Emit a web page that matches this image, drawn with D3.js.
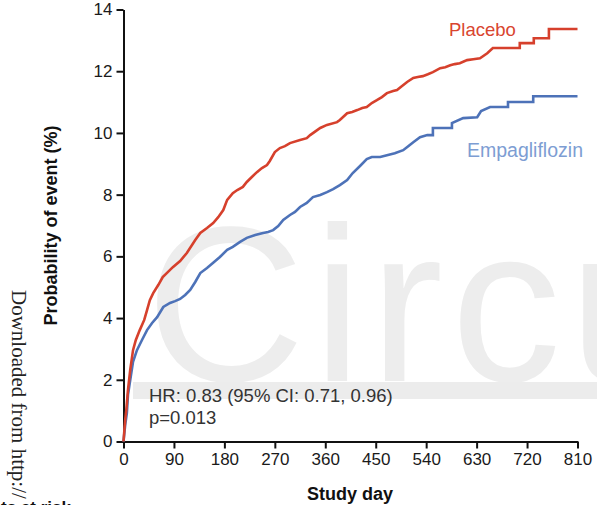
<!DOCTYPE html>
<html>
<head>
<meta charset="utf-8">
<script src="https://cdn.jsdelivr.net/npm/d3@7"></script>
<style>
  body { margin: 0; background: #fff; }
  svg { display: block; font-family: "Liberation Sans", Arial, sans-serif; }
</style>
</head>
<body>
<svg id="chart" width="597" height="505"></svg>
<script>
// Kaplan-Meier curves (day, cumulative %)
// repeated days mark the visible steps late in follow-up
var placeboDay = [0, 3, 5, 8, 12, 17, 22, 29, 37, 42, 47, 53, 62, 70, 79, 88, 101, 113, 128, 137, 149, 160, 169, 178, 185, 195, 203, 213, 220, 229, 238, 247, 256, 261, 270, 279, 288, 297, 315, 327, 333, 343, 351, 363, 381, 386, 399, 408, 417, 426, 434, 443, 452, 461, 470, 481, 488, 497, 506, 517, 525, 534, 543, 552, 565, 574, 583, 591, 600, 613, 624, 636, 649, 659, 707, 707, 732, 732, 759, 759, 810];
var placeboPct = [0, 0.70, 1.02, 1.67, 2.32, 2.96, 3.29, 3.61, 3.94, 4.26, 4.58, 4.81, 5.07, 5.33, 5.49, 5.65, 5.85, 6.11, 6.53, 6.76, 6.92, 7.08, 7.27, 7.50, 7.83, 8.05, 8.15, 8.25, 8.41, 8.57, 8.73, 8.86, 8.96, 9.09, 9.38, 9.51, 9.57, 9.67, 9.77, 9.83, 9.93, 10.06, 10.16, 10.26, 10.35, 10.42, 10.64, 10.68, 10.74, 10.81, 10.84, 10.97, 11.06, 11.16, 11.29, 11.36, 11.39, 11.52, 11.65, 11.78, 11.81, 11.84, 11.90, 11.97, 12.10, 12.13, 12.19, 12.23, 12.26, 12.36, 12.39, 12.42, 12.58, 12.75, 12.75, 12.91, 12.91, 13.07, 13.07, 13.37, 13.37];

var empaDay = [0, 3, 6, 8, 12, 17, 24, 33, 42, 51, 60, 71, 83, 92, 101, 110, 119, 128, 137, 149, 160, 172, 185, 195, 208, 220, 235, 249, 258, 267, 276, 285, 297, 306, 315, 327, 338, 351, 363, 374, 386, 399, 409, 422, 434, 443, 458, 470, 484, 499, 508, 517, 529, 542, 552, 552, 586, 586, 606, 631, 638, 654, 686, 686, 731, 731, 810];
var empaPct = [0, 0.53, 0.92, 1.51, 1.99, 2.58, 2.96, 3.29, 3.61, 3.84, 4.03, 4.36, 4.49, 4.55, 4.62, 4.75, 4.91, 5.17, 5.46, 5.62, 5.79, 5.98, 6.21, 6.31, 6.47, 6.60, 6.69, 6.76, 6.79, 6.85, 6.98, 7.18, 7.34, 7.44, 7.60, 7.73, 7.92, 7.99, 8.08, 8.18, 8.31, 8.47, 8.70, 8.93, 9.15, 9.22, 9.22, 9.28, 9.34, 9.44, 9.57, 9.70, 9.86, 9.93, 9.93, 10.16, 10.16, 10.32, 10.48, 10.51, 10.71, 10.84, 10.84, 11.00, 11.00, 11.19, 11.19];

var xTicks = [0, 90, 180, 270, 360, 450, 540, 630, 720, 810];
var yTicks = [0, 2, 4, 6, 8, 10, 12, 14];

var hrText = "HR: 0.83 (95% CI: 0.71, 0.96)";
var pText = "p=0.013";

var svg = d3.select('#chart');

var x = d3.scaleLinear().domain([0, 810]).range([123.5, 577.5]);
var y = d3.scaleLinear().domain([0, 14]).range([441.5, 9.5]);

// journal watermark and side text
svg.append('text')
    .attr('x', 146)
    .attr('y', 381)
    .style('font-size', '220px')
    .style('letter-spacing', '8px')
    .style('fill', '#ededed')
    .text('Circu');

svg.append('rect')
    .attr('x', 133)
    .attr('y', 382)
    .attr('width', 464)
    .attr('height', 17)
    .style('fill', '#ececec');

svg.append('text')
    .attr('transform', 'translate(12,290) rotate(90)')
    .style('font-family', '"Liberation Serif", "Times New Roman", serif')
    .style('font-size', '21px')
    .style('fill', '#222')
    .text('Downloaded from http://');

svg.append('text')
    .attr('x', 71)
    .attr('y', 513)
    .attr('text-anchor', 'end')
    .style('font-size', '17px')
    .style('font-weight', 'bold')
    .style('fill', '#111')
    .text('Patients at risk');

// axes
var yAxis = svg.append('g')
    .attr('transform', 'translate(123.5,0)')
    .call(d3.axisLeft(y).tickValues(yTicks).tickSize(7).tickPadding(4).tickSizeOuter(0));

var xAxis = svg.append('g')
    .attr('transform', 'translate(0,441.5)')
    .call(d3.axisBottom(x).tickValues(xTicks).tickSize(7).tickPadding(4).tickSizeOuter(0));

[yAxis, xAxis].forEach(g => {
    g.select('.domain').attr('stroke', '#111').attr('stroke-width', 2);
    g.selectAll('.tick line').attr('stroke', '#111').attr('stroke-width', 2);
    g.selectAll('.tick text')
        .style('font-size', '17px')
        .style('font-family', '"Liberation Sans", Arial, sans-serif')
        .attr('fill', '#1a1a1a');
});

// KM curves
var line = d3.line()
    .x(d => x(d[0]))
    .y(d => y(d[1]));

var series = [
    { name: 'Empagliflozin', days: empaDay, pct: empaPct, color: '#4d72b8' },
    { name: 'Placebo', days: placeboDay, pct: placeboPct, color: '#d6402c' }
];

series.forEach(s => {
    svg.append('path')
        .datum(s.days.map((d, i) => [d, s.pct[i]]))
        .attr('d', line)
        .attr('fill', 'none')
        .attr('stroke', s.color)
        .attr('stroke-width', 2.6)
        .attr('stroke-linejoin', 'miter');
});

// curve labels
svg.append('text')
    .attr('x', 449)
    .attr('y', 36)
    .style('font-size', '18.5px')
    .style('fill', '#d9452f')
    .text('Placebo');

svg.append('text')
    .attr('x', 467)
    .attr('y', 157)
    .style('font-size', '19.5px')
    .style('fill', '#7d9dd3')
    .text('Empagliflozin');

// stats
svg.append('text')
    .attr('x', 149)
    .attr('y', 402)
    .style('font-size', '18.5px')
    .style('fill', '#333')
    .text(hrText);

svg.append('text')
    .attr('x', 149)
    .attr('y', 424)
    .style('font-size', '18.5px')
    .style('fill', '#333')
    .text(pText);

// axis titles
svg.append('text')
    .attr('x', 350)
    .attr('y', 500)
    .attr('text-anchor', 'middle')
    .style('font-size', '18px')
    .style('font-weight', 'bold')
    .style('fill', '#111')
    .text('Study day');

svg.append('text')
    .attr('transform', 'translate(57,225.5) rotate(-90)')
    .attr('text-anchor', 'middle')
    .style('font-size', '18px')
    .style('font-weight', 'bold')
    .style('fill', '#111')
    .text('Probability of event (%)');
</script>
</body>
</html>
